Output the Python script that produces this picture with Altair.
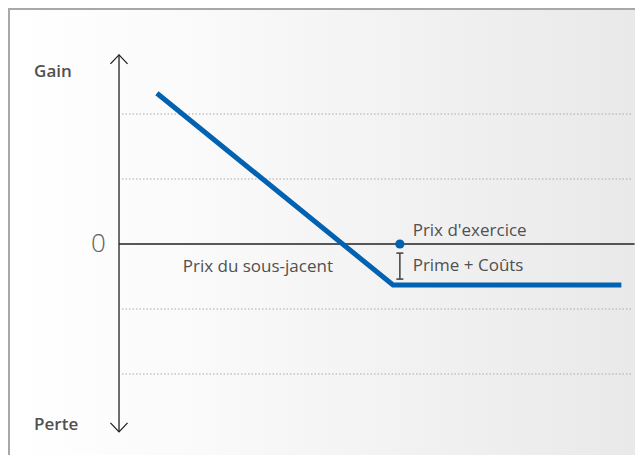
import altair as alt
import pandas as pd

# ---- data (conceptual units: x = underlying price, y = profit/loss) ----
payoff_x = [8.3, 60.0, 110.0]
payoff_y = [2.32, -0.63, -0.63]

strike_x = [61.5]
strike_y = [0.0]

cost_x = [61.5]
cost_top = [-0.14]
cost_bottom = [-0.54]

grid_levels = [-2, -1, 1, 2]
grid_x_start = 0.66
grid_x_end = 112.3

zero_x_start = 0.0
zero_x_end = 112.9

axis_top = 2.91
axis_bottom = -2.89

side_labels = ["Gain", "Perte"]
side_label_x = [-18.6, -18.6]
side_label_y = [2.65, -2.78]

zero_label = ["0"]
zero_label_x = [-4.5]
zero_label_y = [0.0]

note_labels = ["Prix d'exercice", "Prime + Coûts"]
note_x = [64.3, 64.3]
note_y = [0.2, -0.34]

under_label = ["Prix du sous-jacent"]
under_x = [30.4]
under_y = [-0.35]

X_DOMAIN = [-24.31, 112.99]
Y_DOMAIN = [-3.246, 3.631]

W, H = 627, 447

BLUE = "#0062b0"
TEXT = "#505050"
FONT = "Open Sans"

xs = alt.Scale(domain=X_DOMAIN, nice=False, zero=False)
ys = alt.Scale(domain=Y_DOMAIN, nice=False, zero=False)


def X(field="x"):
    return alt.X(f"{field}:Q", scale=xs, axis=None)


def Y(field="y"):
    return alt.Y(f"{field}:Q", scale=ys, axis=None)


one = pd.DataFrame({"k": [0]})

# gradient background panel
bg = alt.Chart(one).mark_rect(
    color=alt.LinearGradient(
        gradient="linear", x1=0, y1=0, x2=1, y2=0,
        stops=[
            alt.GradientStop(offset=0.0, color="#ffffff"),
            alt.GradientStop(offset=0.3, color="#fafafa"),
            alt.GradientStop(offset=1.0, color="#e9e9e9"),
        ],
    )
).encode(x=alt.value(0), x2=alt.value(W), y=alt.value(0), y2=alt.value(H))

# frame (top and left edges only)
frame_top = alt.Chart(one).mark_rule(color="#a8a8a8", strokeWidth=2).encode(
    x=alt.value(0), x2=alt.value(W), y=alt.value(1)
)
frame_left = alt.Chart(one).mark_rule(color="#a8a8a8", strokeWidth=2).encode(
    x=alt.value(1), y=alt.value(0), y2=alt.value(H)
)

grid_df = pd.DataFrame({"y": grid_levels, "x": [grid_x_start] * 4, "x2": [grid_x_end] * 4})
grid = alt.Chart(grid_df).mark_rule(color="#a9a9a9", strokeWidth=1, strokeDash=[1.5, 2]).encode(
    x=X(), x2="x2:Q", y=Y()
)

zero_df = pd.DataFrame({"x": [zero_x_start], "x2": [zero_x_end], "y": [0.0]})
zero_line = alt.Chart(zero_df).mark_rule(color="#222222", strokeWidth=1.3).encode(
    x=X(), x2="x2:Q", y=Y()
)

vaxis_df = pd.DataFrame({"x": [0.0], "y": [axis_bottom], "y2": [axis_top]})
vaxis = alt.Chart(vaxis_df).mark_rule(color="#222222", strokeWidth=1.3).encode(
    x=X(), y=Y(), y2="y2:Q"
)

arrow_up = alt.Chart(pd.DataFrame({"x": [0.0], "y": [axis_top]})).mark_point(
    shape="M-0.95,1L0,0L0.95,1", size=324, filled=False, color="#222222", strokeWidth=1.3, opacity=1
).encode(x=X(), y=Y())
arrow_down = alt.Chart(pd.DataFrame({"x": [0.0], "y": [axis_bottom]})).mark_point(
    shape="M-0.95,-1L0,0L0.95,-1", size=324, filled=False, color="#222222", strokeWidth=1.3, opacity=1
).encode(x=X(), y=Y())

payoff_df = pd.DataFrame({"x": payoff_x, "y": payoff_y, "o": list(range(len(payoff_x)))})
payoff = alt.Chart(payoff_df).mark_line(color=BLUE, strokeWidth=5, strokeJoin="miter").encode(
    x=X(), y=Y(), order="o:Q"
)

strike = alt.Chart(pd.DataFrame({"x": strike_x, "y": strike_y})).mark_point(
    filled=True, size=85, color=BLUE, opacity=1
).encode(x=X(), y=Y())

cost_df = pd.DataFrame({"x": cost_x, "y": cost_bottom, "y2": cost_top})
cost_bar = alt.Chart(cost_df).mark_rule(color="#4a4a4a", strokeWidth=1.6).encode(
    x=X(), y=Y(), y2="y2:Q"
)
cap_df = pd.DataFrame({"x": cost_x * 2, "y": cost_top + cost_bottom})
cost_caps = alt.Chart(cap_df).mark_tick(
    orient="horizontal", size=7, thickness=1.6, color="#4a4a4a", opacity=1
).encode(x=X(), y=Y())

side_df = pd.DataFrame({"t": side_labels, "x": side_label_x, "y": side_label_y})
side_text = alt.Chart(side_df).mark_text(
    align="left", baseline="middle", font=FONT, fontSize=17, fontWeight=600, color=TEXT
).encode(x=X(), y=Y(), text="t:N")

zero_df2 = pd.DataFrame({"t": zero_label, "x": zero_label_x, "y": zero_label_y})
zero_text = alt.Chart(zero_df2).mark_text(
    align="center", baseline="middle", font=FONT, fontSize=26, fontWeight=300, color="#606060"
).encode(x=X(), y=Y(), text="t:N")

note_df = pd.DataFrame({"t": note_labels, "x": note_x, "y": note_y})
note_text = alt.Chart(note_df).mark_text(
    align="left", baseline="middle", font=FONT, fontSize=17, color=TEXT
).encode(x=X(), y=Y(), text="t:N")

under_df = pd.DataFrame({"t": under_label, "x": under_x, "y": under_y})
under_text = alt.Chart(under_df).mark_text(
    align="center", baseline="middle", font=FONT, fontSize=17, color=TEXT
).encode(x=X(), y=Y(), text="t:N")

chart = alt.layer(
    bg, frame_top, frame_left, grid, zero_line, vaxis, arrow_up, arrow_down,
    payoff, strike, cost_bar, cost_caps, side_text, zero_text, note_text, under_text
).properties(
    width=W, height=H, padding=0, autosize=alt.AutoSizeParams(type="none")
).configure_view(
    stroke=None
).configure(background="#ffffff")

chart.save("out.html", embed_options={"renderer": "svg", "actions": False})
